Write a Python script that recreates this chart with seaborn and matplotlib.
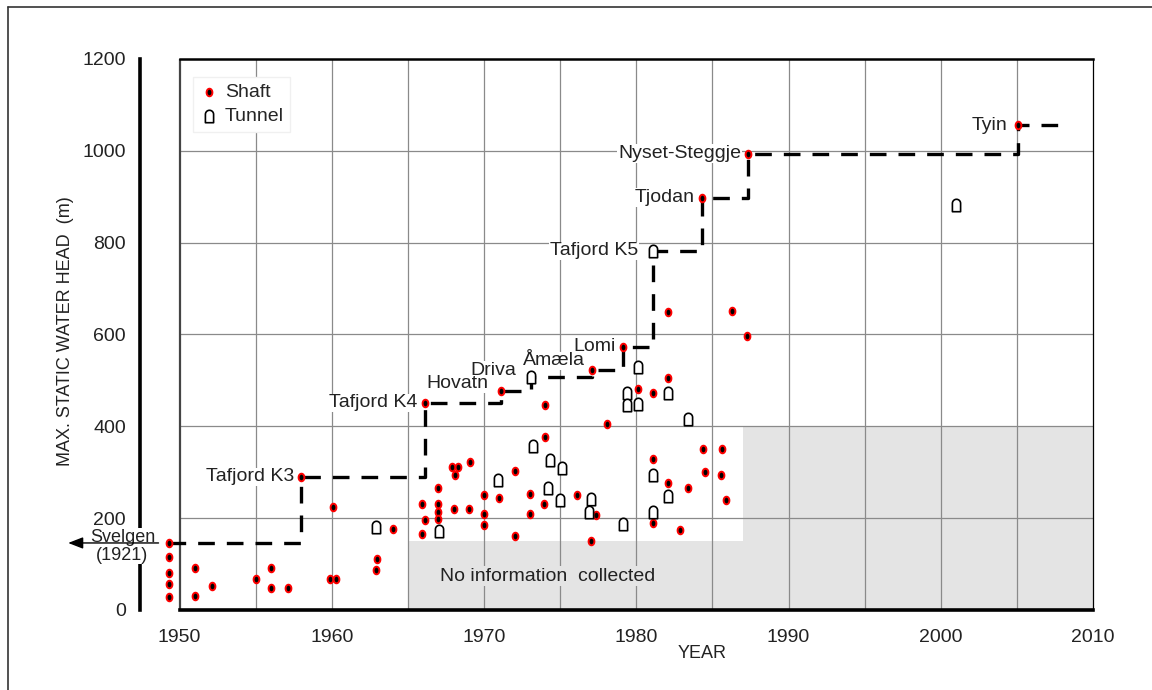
import numpy as np
import matplotlib
matplotlib.use("Agg")
import matplotlib.pyplot as plt
from matplotlib.path import Path
from matplotlib.lines import Line2D
import seaborn as sns

# === Values ===
shaft_year = [1949.3, 1949.3, 1949.3, 1949.3, 1949.3, 1951.0, 1951.0, 1952.1, 1955.0, 1956.0,
              1956.0, 1957.1, 1958.0, 1959.9, 1960.3, 1960.1, 1962.9, 1963.0, 1964.0, 1965.9,
              1965.9, 1966.1, 1966.1, 1966.95, 1967.0, 1967.0, 1967.0, 1967.9, 1968.3, 1968.1,
              1969.1, 1968.0, 1969.0, 1970.0, 1970.0, 1970.0, 1970.95, 1971.1, 1972.05, 1972.05,
              1973.0, 1973.0, 1974.0, 1974.0, 1973.95, 1976.1, 1977.35, 1977.0, 1977.1, 1978.1,
              1979.1, 1980.1, 1981.1, 1981.1, 1981.1, 1982.1, 1982.1, 1982.1, 1982.85, 1983.4,
              1984.4, 1984.5, 1985.6, 1985.55, 1985.9, 1986.3, 1987.3, 1984.3, 1987.35, 2005.1]
shaft_head = [146, 116, 80, 56, 29, 92, 31, 53, 67, 91,
              49, 49, 290, 67, 67, 224, 87, 110, 177, 230,
              165, 197, 450, 265, 230, 214, 198, 311, 311, 294,
              322, 221, 221, 250, 208, 185, 245, 477, 303, 162,
              252, 209, 446, 377, 230, 250, 207, 151, 523, 405,
              573, 481, 472, 328, 190, 505, 277, 650, 174, 265,
              351, 301, 350, 294, 240, 651, 597, 898, 994, 1056]

tunnel_year = [1962.9, 1967.05, 1970.9, 1973.1, 1973.2, 1974.35, 1975.1, 1974.2, 1975.0, 1977.0,
               1976.9, 1979.1, 1979.4, 1979.4, 1980.1, 1980.1, 1981.1, 1981.1, 1981.1, 1982.1,
               1982.1, 1983.4, 2001.0]
tunnel_head = [180, 171, 283, 508, 358, 327, 310, 266, 240, 242,
               214, 187, 473, 446, 449, 530, 295, 214, 782, 248,
               472, 417, 882]

# world record heads, stepwise
record_year = [1949.3, 1958.0, 1966.1, 1971.1, 1973.1, 1977.1, 1979.1, 1981.1, 1984.3, 1987.35, 2005.1, 2008.3]
record_head = [146, 290, 451, 477, 508, 523, 573, 782, 898, 994, 1056, 1056]
record_name = ["", "Tafjord K3", "Tafjord K4", "Hovatn", "Driva", "Åmæla", "Lomi",
               "Tafjord K5", "Tjodan", "Nyset-Steggje", "Tyin", ""]

# area with no information collected
nodata_year = [1965, 1965, 1987, 1987, 2010, 2010]
nodata_head = [0, 150, 150, 400, 400, 0]

x_ticks = [1950, 1960, 1970, 1980, 1990, 2000, 2010]
y_ticks = [0, 200, 400, 600, 800, 1000, 1200]
x_grid = [1955, 1960, 1965, 1970, 1975, 1980, 1985, 1990, 1995, 2000, 2005]
y_grid = [200, 400, 600, 800, 1000]

# === Style ===
sns.set_style("white")
plt.rcParams['font.family'] = ['Liberation Sans', 'DejaVu Sans']
TXT = "#222222"
GRAY = "#e4e4e4"

# shaft: slightly tall ellipse; tunnel: arch profile
t = np.linspace(0, 2 * np.pi, 41)
shaft_marker = Path(np.column_stack([0.38 * np.cos(t), 0.5 * np.sin(t)]), closed=True)
a = np.linspace(np.pi, 0, 21)
arch = np.vstack([[-0.33, -0.5],
                  np.column_stack([0.33 * np.cos(a), 0.17 + 0.33 * np.sin(a)]),
                  [0.33, -0.5], [-0.33, -0.5]])
tunnel_marker = Path(arch, closed=True)

fig = plt.figure(figsize=(11.52, 6.9), dpi=100)
ax = fig.add_axes([140 / 1152, 80 / 690, (1093 - 140) / 1152, (610 - 59) / 690])
ax.set_xlim(1947.4, 2010)
ax.set_ylim(0, 1200)

# gray no-data zone + grid
ax.fill(nodata_year, nodata_head, color=GRAY, lw=0, zorder=0.5)
ax.hlines(y_grid, 1950, 2010, color="#8a8a8a", lw=0.9, zorder=1)
ax.vlines(x_grid, 0, 1200, color="#8a8a8a", lw=0.9, zorder=1)
ax.vlines(1950, 0, 1200, color="#444444", lw=1.6, zorder=1.2)
ax.text(1974.2, 74, "No information  collected", ha="center", va="center", fontsize=14, color=TXT,
        bbox=dict(facecolor=GRAY, edgecolor="none", pad=1), zorder=2)

# record step line
ax.step(record_year, record_head, where="post", color="black", lw=2.4,
        dashes=(5, 3.6), zorder=3)

sns.scatterplot(x=shaft_year, y=shaft_head, ax=ax, marker=shaft_marker, s=30,
                color="black", edgecolor="red", linewidth=1.4, label="Shaft", zorder=4)
sns.scatterplot(x=tunnel_year, y=tunnel_head, ax=ax, marker=tunnel_marker, s=80,
                color="white", edgecolor="black", linewidth=1.2, label="Tunnel", zorder=4)

# record labels (earlier ones drawn on top)
raise_px = {"Hovatn": 7, "Driva": 6, "Åmæla": 9}
gap_px = {"Hovatn": 12, "Driva": 15, "Tafjord K5": 15, "Tyin": 11}
for i, (yr, hd, name) in enumerate(zip(record_year, record_head, record_name)):
    if not name:
        continue
    ax.annotate(name, (yr, hd), xytext=(-gap_px.get(name, 7) * 0.72, raise_px.get(name, 0) * 0.72),
                textcoords="offset points", ha="right", va="center", fontsize=14, color=TXT,
                bbox=dict(facecolor="white", edgecolor="none", pad=0.5), zorder=3.6 - 0.01 * i)

# Svelgen (1921) arrow to the left of the axis
ax.annotate("", xy=(1942.5, record_head[0]), xytext=(1948.8, record_head[0]),
            arrowprops=dict(arrowstyle="-|>,head_length=0.9,head_width=0.35", color="black", lw=1),
            annotation_clip=False, zorder=6)
ax.text(1946.25, record_head[0] + 3, "Svelgen", ha="center", va="baseline", fontsize=13, color=TXT,
        bbox=dict(facecolor="white", edgecolor="none", pad=0.3), clip_on=False, zorder=5)
ax.text(1946.25, record_head[0] - 8, "(1921)", ha="center", va="top", fontsize=13, color=TXT,
        bbox=dict(facecolor="white", edgecolor="none", pad=0.3), clip_on=False, zorder=5)

# axes look
for s in ["left", "bottom", "top", "right"]:
    ax.spines[s].set_color("black")
ax.spines["left"].set_linewidth(2.6)
ax.spines["bottom"].set_linewidth(2.6)
ax.spines["bottom"].set_bounds(1950, 2010)
ax.spines["top"].set_linewidth(1.8)
ax.spines["top"].set_bounds(1950, 2010)
ax.spines["right"].set_linewidth(0.9)

ax.set_xticks(x_ticks)
ax.set_yticks(y_ticks)
ax.tick_params(axis="y", direction="inout", length=8, width=2, pad=6, labelsize=14, labelcolor=TXT)
ax.tick_params(axis="x", direction="out", length=6, width=1, pad=8, labelsize=14, labelcolor=TXT)

ax.legend(loc="upper left", bbox_to_anchor=(0.045, 0.985), frameon=True, facecolor="white",
          edgecolor="#f0f0f0", framealpha=1, fontsize=14, handletextpad=0.3, borderpad=0.35,
          labelspacing=0.3, handlelength=1.0, fancybox=False)

fig.text(66 / 1152, 1 - 331 / 690, "MAX. STATIC WATER HEAD  (m)", rotation=90, ha="center",
         va="center", fontsize=13, color=TXT)
fig.text(702 / 1152, 1 - 654 / 690, "YEAR", ha="center", va="center", fontsize=13, color=TXT)

# outer frame of the original figure
fig.add_artist(Line2D([8 / 1152, 8 / 1152], [0, 1 - 7 / 690], color="#333333", lw=1.2))
fig.add_artist(Line2D([8 / 1152, 1], [1 - 7 / 690, 1 - 7 / 690], color="#333333", lw=1.2))

fig.savefig("out.png", dpi=100)
